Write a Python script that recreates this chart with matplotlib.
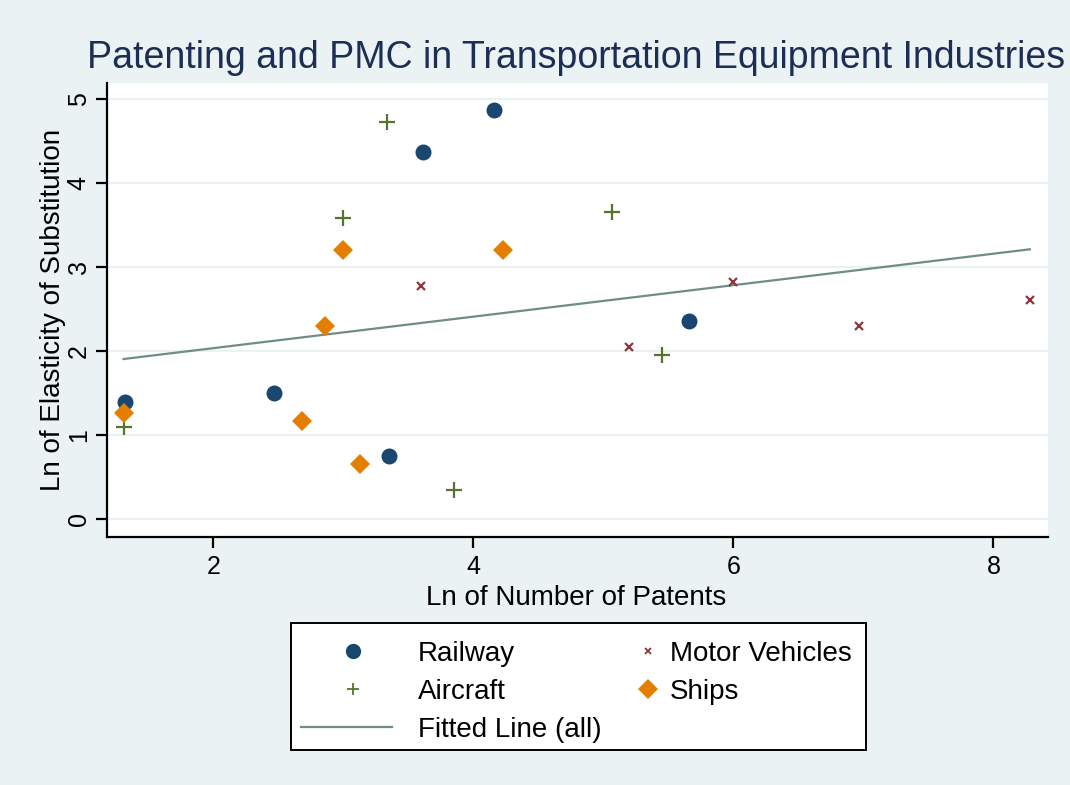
import matplotlib
matplotlib.use("Agg")
import matplotlib.pyplot as plt
from matplotlib.lines import Line2D
from matplotlib.patches import Rectangle
import numpy as np

plt.rcParams['font.family'] = ['Liberation Sans', 'DejaVu Sans']

# ---- data ----
railway_x = [1.32, 2.47, 3.35, 3.61, 4.16, 5.66]
railway_y = [1.39, 1.50, 0.75, 4.38, 4.87, 2.36]

aircraft_x = [1.31, 3.00, 3.34, 3.85, 5.07, 5.45]
aircraft_y = [1.10, 3.59, 4.73, 0.35, 3.66, 1.95]

motor_x = [3.60, 5.20, 6.00, 6.97, 8.28]
motor_y = [2.78, 2.05, 2.83, 2.30, 2.61]

ships_x = [1.31, 2.68, 2.86, 3.00, 3.13, 4.23]
ships_y = [1.26, 1.17, 2.30, 3.21, 0.66, 3.21]

fit_intercept = 1.661
fit_slope = 0.1876

x_ticks = [2, 4, 6, 8]
y_ticks = [0, 1, 2, 3, 4, 5]

# ---- styles ----
BG = '#eaf2f3'
NAVY = '#1a476f'
MAROON = '#90353b'
GREEN = '#55752f'
ORANGE = '#e37e00'
TEAL = '#6e8e84'

W, H = 1070, 785
fig = plt.figure(figsize=(W / 100, H / 100), dpi=100, facecolor=BG)
ax = fig.add_axes([107.3 / W, 1 - 536.7 / H, (1048 - 107.3) / W, (536.7 - 82.7) / H])
ax.set_facecolor('white')

ax.set_xlim(1.185, 8.42)
ax.set_ylim(-0.211, 5.2)

for yv in y_ticks:
    ax.axhline(yv, color=BG, lw=1.6, zorder=0)

all_x = np.array(railway_x + aircraft_x + motor_x + ships_x)
fx = np.array([all_x.min(), all_x.max()])
ax.plot(fx, fit_intercept + fit_slope * fx, color=TEAL, lw=1.6, zorder=2)

ax.plot(railway_x, railway_y, 'o', color=NAVY, ms=11.5, mew=0, zorder=3)
ax.plot(aircraft_x, aircraft_y, '+', color=GREEN, ms=11, mew=1.6, zorder=3)
ax.plot(motor_x, motor_y, 'x', color=MAROON, ms=6, mew=1.6, zorder=3)
ax.plot(ships_x, ships_y, 'D', color=ORANGE, ms=10, mew=0, zorder=3)

for s in ['top', 'right']:
    ax.spines[s].set_visible(False)
for s in ['left', 'bottom']:
    ax.spines[s].set_linewidth(1.6)
    ax.spines[s].set_color('black')

ax.set_xticks(x_ticks)
ax.set_yticks(y_ticks)
ax.tick_params(axis='both', direction='out', length=8, width=1.6, labelsize=18, colors='black', pad=5)
ax.tick_params(axis='y', labelrotation=90, pad=4)
for lab in ax.get_yticklabels():
    lab.set_va('center')

ax.set_xlabel('Ln of Number of Patents', fontsize=20)
ax.set_ylabel('Ln of Elasticity of Substitution', fontsize=20)
# label centres in pixel terms
ax.xaxis.set_label_coords((576 - 107.3) / (1048 - 107.3), -(598 - 536.7) / (536.7 - 82.7))
ax.xaxis.label.set_va('center')
ax.yaxis.set_label_coords(-(107.3 - 53) / (1048 - 107.3), 0.5)
ax.yaxis.label.set_va('center')

fig.text(576 / W, 1 - 58 / H, 'Patenting and PMC in Transportation Equipment Industries',
         ha='center', va='center', fontsize=27, color='#1c2e54')

# ---- legend (manual, figure coords) ----
def fx_(px):
    return px / W

def fy_(py):
    return 1 - py / H

fig.add_artist(Rectangle((fx_(291), fy_(750)), (866 - 291) / W, (750 - 623) / H,
                         transform=fig.transFigure, facecolor='white', edgecolor='black', lw=1.4))
rows = [651, 689, 727]
fig.add_artist(Line2D([fx_(353)], [fy_(rows[0])], marker='o', color=NAVY, ms=11, mew=0,
                      linestyle='none', transform=fig.transFigure))
fig.add_artist(Line2D([fx_(353)], [fy_(rows[1])], marker='+', color=GREEN, ms=9, mew=1.3,
                      linestyle='none', transform=fig.transFigure))
fig.add_artist(Line2D([fx_(301), fx_(392)], [fy_(rows[2])] * 2, color=TEAL, lw=1.6,
                      transform=fig.transFigure))
fig.add_artist(Line2D([fx_(648)], [fy_(rows[0])], marker='x', color=MAROON, ms=5, mew=1.3,
                      linestyle='none', transform=fig.transFigure))
fig.add_artist(Line2D([fx_(648)], [fy_(rows[1])], marker='D', color=ORANGE, ms=10, mew=0,
                      linestyle='none', transform=fig.transFigure))
lt = dict(fontsize=20, va='center', ha='left', color='black')
fig.text(fx_(418), fy_(rows[0] + 3), 'Railway', **lt)
fig.text(fx_(418), fy_(rows[1] + 3), 'Aircraft', **lt)
fig.text(fx_(418), fy_(rows[2] + 3), 'Fitted Line (all)', **lt)
fig.text(fx_(670), fy_(rows[0] + 3), 'Motor Vehicles', **lt)
fig.text(fx_(670), fy_(rows[1] + 3), 'Ships', **lt)

fig.savefig('out.png', dpi=100, facecolor=BG)
